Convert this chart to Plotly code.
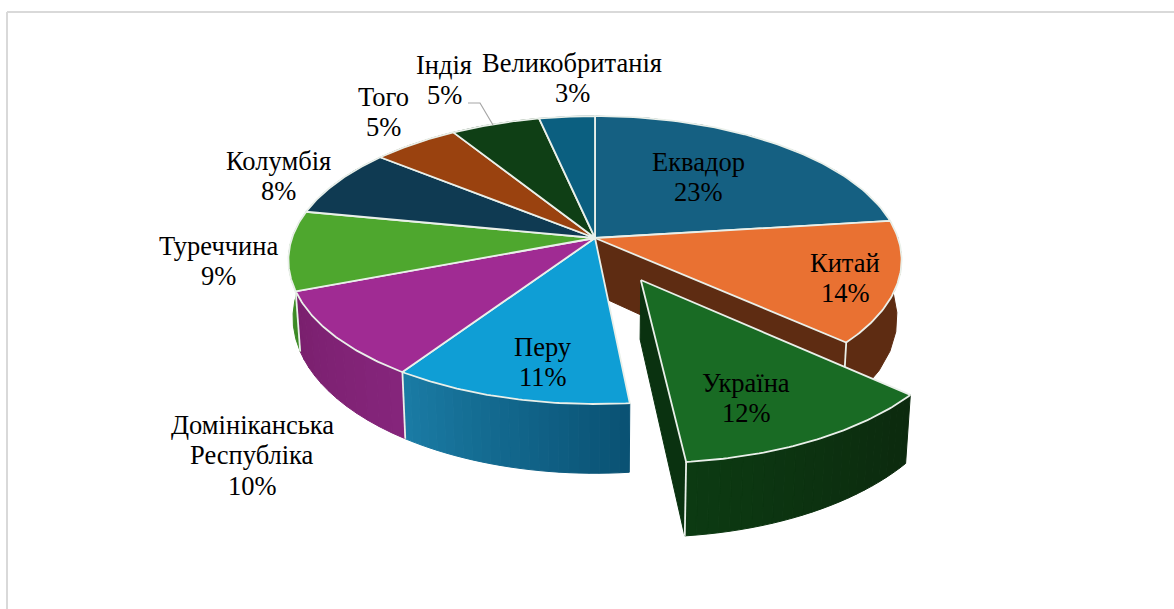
import numpy as np
import plotly.graph_objects as go

# ---- data -------------------------------------------------------------
countries = ["Еквадор", "Китай", "Україна", "Перу", "Домініканська<br>Республіка",
             "Туреччина", "Колумбія", "Того", "Індія", "Великобританія"]
shares = [23.0, 13.6, 11.8, 10.9, 9.8, 8.9, 7.75, 5.3, 5.45, 3.4]
top_colors = ["#156082", "#E97132", "#196B24", "#0F9ED5", "#A02B93",
              "#4EA72E", "#0F3A52", "#9A420F", "#0F3F15", "#0B5F80"]
# wall shading (start colour, end colour, number of bands)
wall_shades = [("#0D3A50", "#0D3A50", 1), ("#5E2C12", "#5E2C12", 1), ("#0C2A0E", "#0C3A12", 24),
               ("#0A5274", "#1A7BA4", 24), ("#85257B", "#7A1F6E", 12), ("#3C8A25", "#3C8A25", 1),
               ("#0A2838", "#0A2838", 1), ("#5E2A0A", "#5E2A0A", 1), ("#0A2A0E", "#0A2A0E", 1),
               ("#073F55", "#073F55", 1)]
exploded = [0, 0, 0.32, 0, 0, 0, 0, 0, 0, 0]

# ---- layout of the label text -------------------------------------------
label_xy = [(698, 177), (845, 278), (746, 398), (543, 362), (252, 455),
            (218, 261), (278, 176), (383, 112), (444, 80), (572, 78)]
FONT = "Liberation Serif"
FONT_SIZE = 26.5
LINE_STEP = 30.5
W, H = 1174, 609

# ---- perspective projection of the pie ----------------------------------
CX, CY, BX, BY, K = 595.0, 238.0, 303.0, 140.6, 0.153
WALL_SX, WALL_SY, WALL_D = 0.985, 1.08, 56.0
EDGE = "#EAF0EA"


def project(u, v, bottom=False):
    w = 1 - K * v
    x = BX * u / w
    y = BY * v / w
    if bottom:
        return CX + WALL_SX * x, CY + WALL_SY * y + WALL_D
    return CX + x, CY + y


vals = np.array(shares, dtype=float)
fr = vals / vals.sum()
edges = np.concatenate([[0], np.cumsum(fr)]) * 2 * np.pi
fig = go.Figure()


def poly(xs, ys, fill, line=None, width=1.0):
    fig.add_trace(go.Scatter(x=list(xs), y=list(ys), mode="lines", fill="toself", fillcolor=fill,
                             line=dict(color=line or fill, width=width), hoverinfo="skip",
                             showlegend=False))


def seg(p, q, color=EDGE, width=1.8):
    fig.add_trace(go.Scatter(x=[p[0], q[0]], y=[p[1], q[1]], mode="lines",
                             line=dict(color=color, width=width), hoverinfo="skip", showlegend=False))


def hex_mix(a, b, t):
    ca = [int(a[i:i + 2], 16) for i in (1, 3, 5)]
    cb = [int(b[i:i + 2], 16) for i in (1, 3, 5)]
    return "#%02x%02x%02x" % tuple(int(round(x + (y - x) * t)) for x, y in zip(ca, cb))


def offset(i):
    mid = (edges[i] + edges[i + 1]) / 2
    return exploded[i] * np.sin(mid), -exploded[i] * np.cos(mid)


def uv(i, a):
    ox, oy = offset(i)
    return ox + np.sin(a), oy - np.cos(a)


def wall(i):
    c0, c1, n = wall_shades[i]
    a = np.linspace(edges[i], edges[i + 1], n + 1)
    for j in range(n):
        t = np.linspace(a[j], a[j + 1], 8)
        top = [project(*uv(i, s)) for s in t]
        bot = [project(*uv(i, s), bottom=True) for s in t[::-1]]
        pts = top + bot + [top[0]]
        col = hex_mix(c0, c1, j / max(n - 1, 1))
        poly([p[0] for p in pts], [p[1] for p in pts], col)


def radial_wall(i, a, color):
    o = offset(i)
    p = [project(*o), project(*uv(i, a)), project(*uv(i, a), bottom=True), project(*o, bottom=True)]
    p.append(p[0])
    poly([q[0] for q in p], [q[1] for q in p], color)


def top_face(i):
    o = project(*offset(i))
    t = np.linspace(edges[i], edges[i + 1], 60)
    pts = [o] + [project(*uv(i, s)) for s in t] + [o]
    poly([p[0] for p in pts], [p[1] for p in pts], top_colors[i], line=EDGE, width=1.8)


UA = 2
main = [i for i in range(len(vals)) if i != UA]
# China's cut face, visible through the gap left by the pulled slice
radial_wall(1, edges[2], wall_shades[1][0])
# outer walls, far slices first
for i in sorted(main, key=lambda k: np.cos((edges[k] + edges[k + 1]) / 2)):
    wall(i)
for i in (3, 4, 5):
    seg(project(*uv(i, edges[i + 1])), project(*uv(i, edges[i + 1]), bottom=True))
seg(project(*uv(1, edges[2])), project(*uv(1, edges[2]), bottom=True))
for i in main:
    top_face(i)
# pulled slice
radial_wall(UA, edges[UA + 1], "#0A3210")
wall(UA)
seg(project(*uv(UA, edges[UA + 1])), project(*uv(UA, edges[UA + 1]), bottom=True))
top_face(UA)

# India leader line
fig.add_trace(go.Scatter(x=[468, 480, 493], y=[103, 103, 125], mode="lines",
                         line=dict(color="#A6A6A6", width=1.2), hoverinfo="skip", showlegend=False))

for name, s, (lx, ly) in zip(countries, shares, label_xy):
    lines = name.split("<br>") + [f"{int(round(s))}%"]
    y0 = ly - LINE_STEP * (len(lines) - 1) / 2
    for k, line in enumerate(lines):
        fig.add_annotation(x=lx, y=y0 + k * LINE_STEP, text=line, showarrow=False, xanchor="center",
                           yanchor="middle", align="center",
                           font=dict(family=FONT, size=FONT_SIZE, color="#000000"))

fig.update_layout(
    width=W, height=H, margin=dict(l=0, r=0, t=0, b=0), autosize=False,
    paper_bgcolor="white", plot_bgcolor="white", showlegend=False,
    xaxis=dict(range=[0, W], visible=False, fixedrange=True),
    yaxis=dict(range=[H, 0], visible=False, fixedrange=True),
    shapes=[
        dict(type="line", x0=7, x1=7, y0=12, y1=H, line=dict(color="#D9D9D9", width=2)),
        dict(type="line", x0=7, x1=W, y0=12, y1=12, line=dict(color="#D9D9D9", width=2)),
    ],
)
fig.write_html("out.html", config={"displayModeBar": False},
               post_script="document.body.style.margin='0';document.documentElement.style.overflow='hidden';")
